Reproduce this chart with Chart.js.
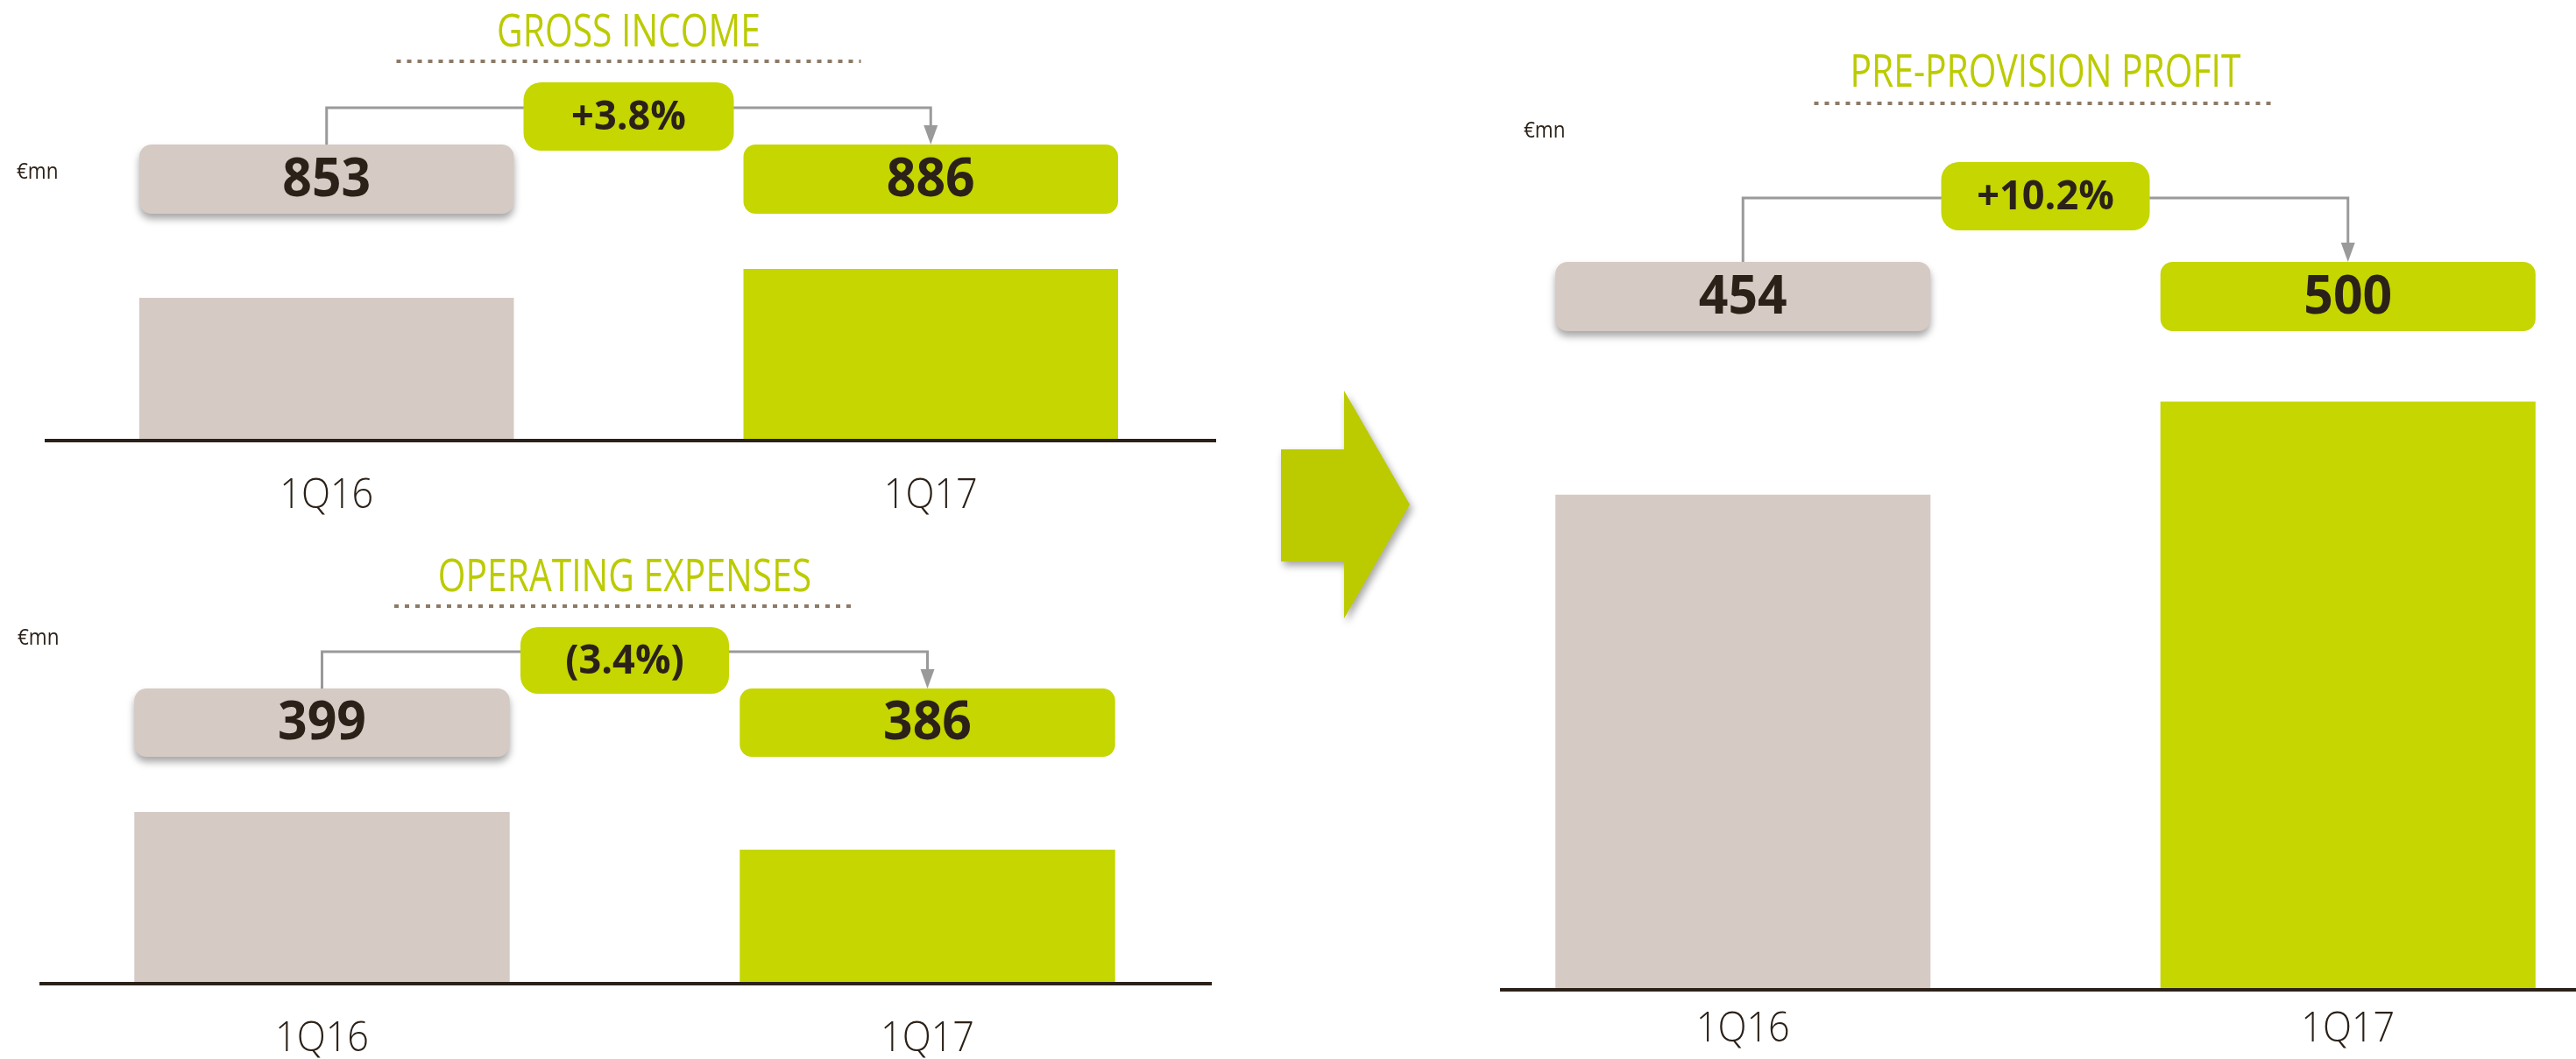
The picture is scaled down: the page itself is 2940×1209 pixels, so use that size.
<!DOCTYPE html>
<html>
<head>
<meta charset="utf-8">
<script src="https://cdn.jsdelivr.net/npm/chart.js"></script>
<style>
  html, body { margin: 0; padding: 0; background: #fff; overflow: hidden; }
  body { width: 2940px; height: 1209px; position: relative; }
  canvas { position: absolute; }
  #arrowWrap { position: absolute; left: 1458px; top: 444px; width: 170px; height: 280px; filter: drop-shadow(3px 5px 4px rgba(0,0,0,0.35)); }
  #arrow { width: 150px; height: 262px; margin: 2px 0 0 4px; background: #bccb00;
    clip-path: polygon(0px 67px, 72px 67px, 72px 0px, 147px 130px, 72px 260px, 72px 195px, 0px 195px); }
</style>
</head>
<body>
<canvas id="grossChart" width="1420" height="600" style="left:0;top:0;width:1420px;height:600px"></canvas>
<canvas id="opexChart" width="1420" height="609" style="left:0;top:600px;width:1420px;height:609px"></canvas>
<canvas id="pppChart" width="1420" height="1209" style="left:1620px;top:0;width:1420px;height:1209px"></canvas>
<div id="arrowWrap"><div id="arrow"></div></div>
<script>
const quarters = ['1Q16', '1Q17'];
const grossIncome = [853, 886];
const operatingExpenses = [399, 386];
const preProvisionProfit = [454, 500];
const changeLabels = ['+3.8%', '(3.4%)', '+10.2%'];
const panelTitles = ['GROSS INCOME', 'OPERATING EXPENSES', 'PRE-PROVISION PROFIT'];
const unitLabel = '€mn';

const barColors = ['#d5cac4', '#c5d600'];
const titleGreen = '#bccb00';
const ink = '#2b2118';

// draws text squeezed horizontally (the deck uses a condensed face)
const squeeze = (ctx, text, x, y, sx) => {
  ctx.save();
  ctx.translate(x, y);
  ctx.scale(sx, 1);
  ctx.fillText(text, 0, 0);
  ctx.restore();
};

const roundBox = (ctx, x0, y0, x1, y1, r) => {
  ctx.beginPath();
  ctx.roundRect(x0, y0, x1 - x0, y1 - y0, r);
  ctx.fill();
};

const panelDecor = {
  id: 'panelDecor',
  afterDatasetsDraw(chart, args, o) {
    const ctx = chart.ctx;
    const bars = chart.getDatasetMeta(0).data;
    const xs = chart.scales.x;
    const area = chart.chartArea;
    const mid = (bars[0].x + bars[1].x) / 2;

    ctx.save();
    ctx.textAlign = 'center';
    ctx.textBaseline = 'middle';

    // baseline
    ctx.strokeStyle = ink;
    ctx.lineWidth = 4;
    ctx.beginPath();
    ctx.moveTo(o.baseX0, area.bottom + 1);
    ctx.lineTo(o.baseX1, area.bottom + 1);
    ctx.stroke();

    // title + dotted rule
    ctx.fillStyle = titleGreen;
    ctx.font = '400 51px "Open Sans"';
    squeeze(ctx, o.title, mid, o.titleY, 0.8);
    ctx.strokeStyle = '#8c7a66';
    ctx.lineWidth = 4;
    ctx.setLineDash([5, 7]);
    ctx.beginPath();
    ctx.moveTo(mid - o.dotHalf, o.dotY);
    ctx.lineTo(mid + o.dotHalf, o.dotY);
    ctx.stroke();
    ctx.setLineDash([]);

    // unit
    ctx.fillStyle = ink;
    ctx.textAlign = 'left';
    ctx.font = '400 25px "Open Sans"';
    squeeze(ctx, unitLabel, o.unitX, o.unitY, 0.9);
    ctx.textAlign = 'center';

    // connector with arrow
    const lx = bars[0].x, rx = bars[1].x;
    ctx.strokeStyle = '#9a9a9a';
    ctx.lineWidth = 3;
    ctx.beginPath();
    ctx.moveTo(lx, o.boxY0);
    ctx.lineTo(lx, o.connY);
    ctx.lineTo(rx, o.connY);
    ctx.lineTo(rx, o.boxY0 - 20);
    ctx.stroke();
    ctx.fillStyle = '#9a9a9a';
    ctx.beginPath();
    ctx.moveTo(rx - 8, o.boxY0 - 22);
    ctx.lineTo(rx + 8, o.boxY0 - 22);
    ctx.lineTo(rx, o.boxY0);
    ctx.closePath();
    ctx.fill();

    // change box
    ctx.fillStyle = barColors[1];
    roundBox(ctx, mid - o.pctW / 2, o.pctY0, mid + o.pctW / 2, o.pctY1, 20);
    ctx.fillStyle = ink;
    ctx.font = '700 46px "Open Sans"';
    squeeze(ctx, o.change, mid, (o.pctY0 + o.pctY1) / 2 + 2, 0.98);

    // value boxes
    bars.forEach((bar, i) => {
      const x0 = bar.x - bar.width / 2, x1 = bar.x + bar.width / 2;
      ctx.save();
      if (i === 0) {
        ctx.shadowColor = 'rgba(0,0,0,0.35)';
        ctx.shadowBlur = 8;
        ctx.shadowOffsetY = 6;
      }
      ctx.fillStyle = barColors[i];
      roundBox(ctx, x0, o.boxY0, x1, o.boxY1, 14);
      ctx.restore();
      ctx.fillStyle = ink;
      ctx.font = '700 60px "Open Sans"';
      squeeze(ctx, String(chart.data.datasets[0].data[i]), bar.x, (o.boxY0 + o.boxY1) / 2 + 2, 0.98);
    });

    // category labels
    ctx.fillStyle = ink;
    ctx.font = '300 48px "Open Sans"';
    chart.data.labels.forEach((lab, i) => {
      squeeze(ctx, lab, xs.getPixelForValue(i), o.labelY, 0.9);
    });
    ctx.restore();
  }
};

const makePanel = (id, values, yMin, yMax, padding, decor) => new Chart(document.getElementById(id), {
  type: 'bar',
  data: {
    labels: quarters,
    datasets: [{
      data: values,
      backgroundColor: barColors,
      borderWidth: 0,
      barPercentage: 0.62,
      categoryPercentage: 1
    }]
  },
  options: {
    responsive: false,
    animation: false,
    devicePixelRatio: 1,
    layout: { padding },
    plugins: { legend: { display: false }, tooltip: { enabled: false }, panelDecor: decor },
    scales: {
      x: { display: false },
      y: { display: false, min: yMin, max: yMax }
    }
  },
  plugins: [panelDecor]
});

Promise.all([
  document.fonts.load('400 48px "Open Sans"'),
  document.fonts.load('700 48px "Open Sans"'),
  document.fonts.load('300 48px "Open Sans"')
]).catch(() => {}).then(() => {
  makePanel('grossChart', grossIncome, 691, 1091,
    { left: 28, right: 13, top: 102, bottom: 98 },
    { title: panelTitles[0], change: changeLabels[0], titleY: 38, dotY: 70, dotHalf: 265,
      unitX: 19, unitY: 197, pctY0: 94, pctY1: 172, pctW: 240, connY: 123,
      boxY0: 165, boxY1: 244, labelY: 566, baseX0: 51, baseX1: 1388 });

  makePanel('opexChart', operatingExpenses, 340, 461,
    { left: 22, right: 16, top: 122, bottom: 87 },
    { title: panelTitles[1], change: changeLabels[1], titleY: 60, dotY: 92, dotHalf: 263,
      unitX: 20, unitY: 129, pctY0: 116, pctY1: 192, pctW: 238, connY: 144,
      boxY0: 186, boxY1: 264, labelY: 586, baseX0: 45, baseX1: 1383 });

  makePanel('pppChart', preProvisionProfit, 210, 556,
    { left: 24, right: 15, top: 329, bottom: 80 },
    { title: panelTitles[2], change: changeLabels[2], titleY: 84, dotY: 118, dotHalf: 264,
      unitX: 119, unitY: 150, pctY0: 185, pctY1: 263, pctW: 238, connY: 226,
      boxY0: 299, boxY1: 378, labelY: 1175, baseX0: 92, baseX1: 1320 });
});
</script>
</body>
</html>
